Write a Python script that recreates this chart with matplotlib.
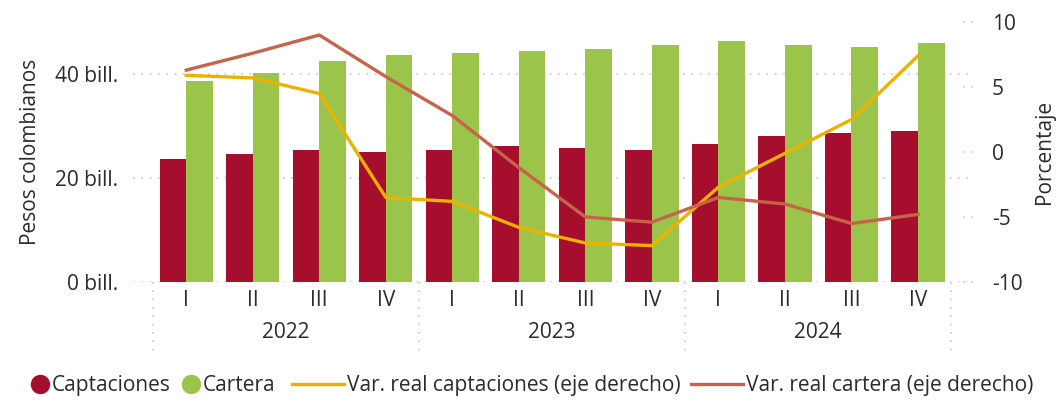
import matplotlib.pyplot as plt
from matplotlib.lines import Line2D

# data
quarters = ["I", "II", "III", "IV"] * 3
years = ["2022", "2023", "2024"]
captaciones = [23.7, 24.6, 25.4, 25.0, 25.4, 26.2, 25.8, 25.4, 26.5, 28.1, 28.6, 29.0]
cartera = [38.7, 40.2, 42.5, 43.7, 44.0, 44.4, 44.8, 45.6, 46.3, 45.6, 45.2, 46.0]
var_captaciones = [5.9, 5.7, 4.5, -3.5, -3.8, -5.8, -7.0, -7.2, -2.7, -0.1, 2.5, 7.4]
var_cartera = [6.3, 7.6, 9.0, 5.8, 2.8, -1.2, -5.0, -5.4, -3.5, -4.0, -5.5, -4.8]

RED = "#A50E2D"
GREEN = "#9BC54A"
YELLOW = "#EDB200"
ORANGE = "#C8634B"
TXT = "#2B2B2B"
GRID = "#C8C8C8"
FS = 15

plt.rcParams['font.family'] = ['Open Sans', 'DejaVu Sans']
plt.rcParams['axes.unicode_minus'] = False

fig = plt.figure(figsize=(10.58, 4.04), dpi=100)
ax = fig.add_axes([0.1257, 0.302, 0.7923, 0.6435])
ax2 = ax.twinx()

x = list(range(len(quarters)))
w = 0.4
ax.bar([i - w / 2 for i in x], captaciones, w, color=RED, zorder=2)
ax.bar([i + w / 2 for i in x], cartera, w, color=GREEN, zorder=2)

ax2.plot(x, var_captaciones, color=YELLOW, lw=2.4)
ax2.plot(x, var_cartera, color=ORANGE, lw=2.4)

ax.set_xlim(-0.8, 11.8)
ax.set_ylim(0, 50)
ax2.set_ylim(-10, 10)

ax.set_yticks([0, 20, 40])
ax.set_yticklabels(["0 bill.", "20 bill.", "40 bill."])
ax2.set_yticks([-10, -5, 0, 5, 10])
ax.grid(axis="y", color=GRID, linestyle=(0, (1, 4)), lw=1.2, zorder=0)

ax.set_xticks(x)
ax.set_xticklabels(quarters)
for a in (ax, ax2):
    for s in a.spines.values():
        s.set_visible(False)
ax.tick_params(axis="x", length=0, labelsize=FS, colors=TXT, pad=6)
ax.tick_params(axis="y", length=0, labelsize=FS, colors=TXT, pad=11)
ax2.tick_params(axis="y", length=0, labelsize=FS, colors=TXT, pad=15)

# short dotted marks next to right axis labels
for v in [-10, -5, 0, 5, 10]:
    ax2.plot([0.99, 1.006], [v, v], transform=ax2.get_yaxis_transform(),
             color=GRID, linestyle=(0, (1, 4)), lw=1.2, clip_on=False)

# year labels and separators
for k, yr in enumerate(years):
    ax.text(4 * k + 1.5, -0.195, yr, transform=ax.get_xaxis_transform(),
            ha="center", va="center", fontsize=FS, color=TXT)
for sep in [-0.5, 3.5, 7.5, 11.5]:
    ax.plot([sep, sep], [0, -0.27], transform=ax.get_xaxis_transform(),
            color=GRID, linestyle=(0, (1, 4)), lw=1.2, clip_on=False)

ax.set_ylabel("Pesos colombianos", fontsize=FS, color=TXT, labelpad=10)
ax2.set_ylabel("Porcentaje", fontsize=FS, color=TXT, labelpad=8)

# legend in two parts: dots on the left, lines on the right
dots = [Line2D([], [], marker="o", ls="", color=RED, markersize=13),
        Line2D([], [], marker="o", ls="", color=GREEN, markersize=13)]
lines = [Line2D([], [], color=YELLOW, lw=2.4),
         Line2D([], [], color=ORANGE, lw=2.4)]
leg1 = fig.legend(dots, ["Captaciones", "Cartera"], loc="center left",
                  bbox_to_anchor=(0.03, 0.045), ncol=2, frameon=False, fontsize=FS,
                  handlelength=0.8, handletextpad=0.15, columnspacing=0.6,
                  labelcolor=TXT, borderpad=0, borderaxespad=0)
leg2 = fig.legend(lines, ["Var. real captaciones (eje derecho)",
                          "Var. real cartera (eje derecho)"], loc="center right",
                  bbox_to_anchor=(0.977, 0.045), ncol=2, frameon=False, fontsize=FS,
                  handlelength=2.5, handletextpad=0.15, columnspacing=0.5,
                  labelcolor=TXT, borderpad=0, borderaxespad=0)

fig.savefig("out.png", dpi=100)
